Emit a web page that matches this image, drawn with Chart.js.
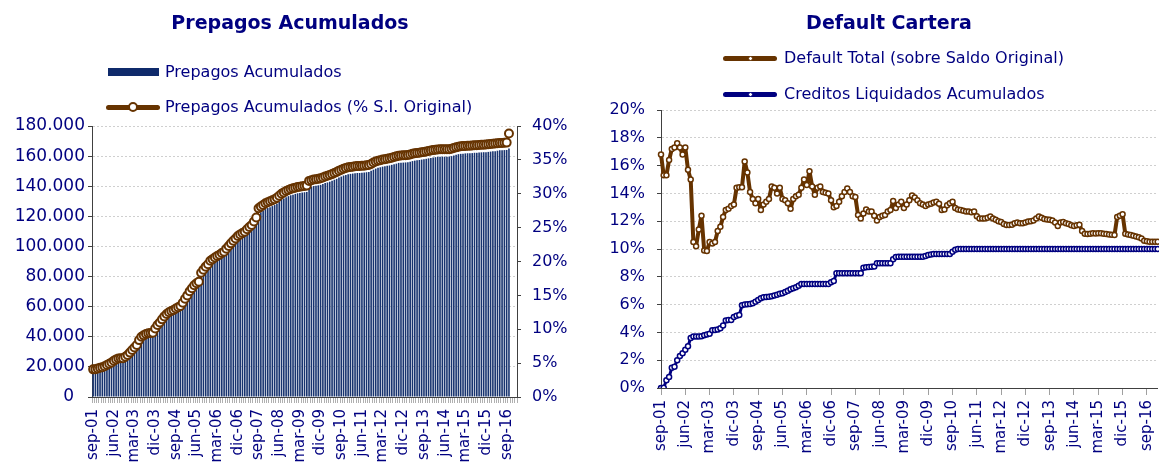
<!DOCTYPE html>
<html>
<head>
<meta charset="utf-8">
<script src="https://cdn.jsdelivr.net/npm/chart.js@4.4.1/dist/chart.umd.min.js"></script>
<style>
  body { margin: 0; background: #fff; font-family: "DejaVu Sans", sans-serif; }
  #wrap { position: relative; width: 1159px; height: 464px; overflow: hidden; }
  canvas { position: absolute; top: 0; }
  .titulo { position: absolute; top: 11px; font-weight: bold; font-size: 19px; color: #000080; white-space: nowrap; transform: translateX(-50%); }
  .leg { position: absolute; font-size: 16px; color: #000080; white-space: nowrap; height: 20px; line-height: 20px; }
  .sym { position: absolute; top: 50%; }
  .barra { height: 8px; margin-top: -4px; background: #0f2a6b; }
  .linea { height: 5px; margin-top: -2.5px; border-radius: 3px; }
  .punto { position: absolute; left: 50%; top: 50%; border-radius: 50%; background: #fff; }
</style>
</head>
<body>
<div id="wrap">
  <canvas id="grafPrepagos" width="580" height="464" style="left:0"></canvas>
  <canvas id="grafDefault" width="590" height="464" style="left:580px"></canvas>

  <div class="titulo" style="left:290px">Prepagos Acumulados</div>
  <div class="titulo" style="left:889px">Default Cartera</div>

  <!-- leyendas -->
  <div class="leg" style="left:165px;top:62px">
    <span class="sym barra" style="left:-57px;width:51px"></span>Prepagos Acumulados</div>
  <div class="leg" style="left:165px;top:97px">
    <span class="sym linea" style="left:-59px;width:54px;background:#663300">
      <span class="punto" style="width:6px;height:6px;margin:-5px 0 0 -5px;border:2px solid #663300"></span></span>Prepagos Acumulados (% S.I. Original)</div>
  <div class="leg" style="left:784px;top:48px">
    <span class="sym linea" style="left:-61px;width:54px;background:#663300">
      <span class="punto" style="width:3px;height:3px;margin:-2.5px 0 0 -2.5px;border:1px solid #663300"></span></span>Default Total (sobre Saldo Original)</div>
  <div class="leg" style="left:784px;top:84px">
    <span class="sym linea" style="left:-61px;width:54px;background:#000080">
      <span class="punto" style="width:3px;height:3px;margin:-2.5px 0 0 -2.5px;border:1px solid #000080"></span></span>Creditos Liquidados Acumulados</div>
</div>

<script>
// Meses (sep-01 .. ene-17)
const meses = ["ene", "feb", "mar", "abr", "may", "jun", "jul", "ago", "sep", "oct", "nov", "dic"];
const etiquetas = [];
for (let i = 0; i < 185; i++) {
  const m = (8 + i) % 12;
  const anio = 1 + Math.floor((8 + i) / 12);
  etiquetas.push(meses[m] + "-" + String(anio).padStart(2, "0"));
}

// Prepagos acumulados (numero)
const prepagos = [
  17800, 17900, 18300, 18900, 19200, 19900, 20600, 21400, 22300, 23400,
  24200, 24900, 25000, 25000, 26000, 27100, 28600, 30300, 31900, 33500,
  36700, 38800, 39700, 40600, 41000, 41200, 41500, 44100, 46400, 48000,
  50000, 51900, 53500, 54600, 55400, 56000, 57000, 57800, 58600, 60700,
  63300, 65500, 68100, 70000, 72000, 73300, 74200, 80100, 82100, 84000,
  85600, 87800, 88800, 89900, 90800, 91700, 92800, 93600, 95600, 97300,
  99000, 100600, 102100, 103700, 104800, 105600, 106500, 108000, 109600, 110800,
  113100, 115700, 121600, 122700, 123700, 124800, 125500, 126100, 126800, 127500,
  128300, 129600, 131000, 131800, 132700, 133400, 134000, 134400, 134900, 135300,
  135500, 135800, 136000, 136200, 139200, 139700, 140100, 140300, 140600, 140900,
  141400, 142100, 142500, 143000, 143600, 144300, 144900, 145800, 146400, 147100,
  147500, 148000, 148200, 148400, 148600, 148800, 148800, 148900, 149100, 149300,
  149500, 150200, 151000, 151700, 152300, 152600, 153000, 153200, 153600, 153800,
  154200, 154600, 155000, 155500, 155600, 155700, 155800, 155900, 156300, 156700,
  157000, 157300, 157400, 157700, 157900, 158200, 158500, 158800, 159100, 159300,
  159500, 159600, 159600, 159600, 159600, 159700, 160000, 160400, 160900, 161300,
  161500, 161600, 161800, 161900, 161900, 162000, 162200, 162200, 162400, 162500,
  162600, 162600, 162800, 163000, 163200, 163300, 163600, 163900, 163900, 164000,
  164100, 165000
];

// Prepagos acumulados (% saldo inicial original)
const prepagosPct = [
  4.08, 4.10, 4.20, 4.33, 4.40, 4.55, 4.72, 4.90, 5.10, 5.36,
  5.55, 5.70, 5.71, 5.72, 5.95, 6.20, 6.55, 6.94, 7.30, 7.68,
  8.40, 8.90, 9.10, 9.30, 9.40, 9.45, 9.50, 10.10, 10.63, 11.00,
  11.46, 11.90, 12.25, 12.50, 12.70, 12.84, 13.05, 13.25, 13.43, 13.90,
  14.50, 15.00, 15.60, 16.04, 16.50, 16.80, 17.00, 18.35, 18.80, 19.24,
  19.60, 20.12, 20.35, 20.60, 20.81, 21.00, 21.25, 21.45, 21.90, 22.30,
  22.68, 23.05, 23.40, 23.76, 24.00, 24.20, 24.40, 24.75, 25.10, 25.39,
  25.90, 26.50, 27.85, 28.10, 28.35, 28.60, 28.75, 28.90, 29.05, 29.20,
  29.40, 29.70, 30.00, 30.20, 30.40, 30.55, 30.70, 30.80, 30.90, 31.00,
  31.05, 31.10, 31.15, 31.20, 31.90, 32.00, 32.10, 32.15, 32.20, 32.28,
  32.40, 32.55, 32.65, 32.77, 32.90, 33.05, 33.20, 33.41, 33.55, 33.70,
  33.80, 33.90, 33.95, 34.00, 34.05, 34.08, 34.10, 34.12, 34.15, 34.20,
  34.24, 34.40, 34.60, 34.75, 34.88, 34.95, 35.05, 35.10, 35.18, 35.23,
  35.32, 35.42, 35.52, 35.62, 35.65, 35.68, 35.70, 35.72, 35.80, 35.90,
  35.97, 36.03, 36.06, 36.12, 36.18, 36.24, 36.31, 36.38, 36.44, 36.50,
  36.54, 36.56, 36.56, 36.57, 36.57, 36.58, 36.65, 36.75, 36.85, 36.95,
  37.00, 37.03, 37.06, 37.08, 37.10, 37.12, 37.15, 37.17, 37.20, 37.22,
  37.24, 37.26, 37.30, 37.34, 37.38, 37.42, 37.45, 37.48, 37.50, 37.52,
  37.55, 38.90
];

// Default total (% sobre saldo original)
const defaultTotal = [
  16.8, 15.3, 15.3, 16.4, 17.2, 17.3, 17.6, 17.3, 16.8, 17.3,
  15.7, 15.0, 10.5, 10.2, 11.4, 12.4, 9.9, 9.85, 10.5, 10.4,
  10.5, 11.3, 11.6, 12.3, 12.8, 12.9, 13.1, 13.2, 14.4, 14.45,
  14.45, 16.3, 15.5, 14.1, 13.6, 13.3, 13.6, 12.8, 13.2, 13.4,
  13.6, 14.5, 14.4, 14.0, 14.4, 13.6, 13.5, 13.3, 12.9, 13.6,
  13.8, 13.9, 14.4, 15.0, 14.6, 15.6, 14.5, 13.9, 14.4, 14.5,
  14.1, 14.05, 14.0, 13.5, 13.0, 13.1, 13.4, 13.8, 14.1, 14.35,
  14.1, 13.8, 13.75, 12.45, 12.2, 12.55, 12.85, 12.7, 12.7, 12.4,
  12.05, 12.3, 12.4, 12.45, 12.7, 12.8, 13.45, 12.95, 13.2, 13.4,
  12.95, 13.2, 13.5, 13.85, 13.7, 13.5, 13.3, 13.2, 13.1, 13.2,
  13.25, 13.35, 13.4, 13.25, 12.8, 12.85, 13.15, 13.3, 13.4, 12.95,
  12.85, 12.8, 12.75, 12.7, 12.7, 12.65, 12.7, 12.35, 12.2, 12.2,
  12.2, 12.25, 12.33, 12.2, 12.1, 12.0, 11.95, 11.8, 11.73, 11.73,
  11.75, 11.85, 11.9, 11.85, 11.85, 11.9, 11.97, 12.0, 12.05, 12.2,
  12.33, 12.25, 12.15, 12.13, 12.1, 12.05, 11.9, 11.65, 11.9, 11.95,
  11.85, 11.8, 11.7, 11.65, 11.7, 11.75, 11.3, 11.1, 11.08, 11.1,
  11.13, 11.12, 11.13, 11.13, 11.1, 11.08, 11.05, 11.02, 11.0, 12.3,
  12.4, 12.5, 11.1, 11.05, 11.0, 10.95, 10.9, 10.85, 10.75, 10.6,
  10.55, 10.53, 10.52, 10.52, 10.52
];

// Creditos liquidados acumulados (%)
const creditosLiq = [
  0.0, 0.02, 0.55, 0.8, 1.45, 1.53, 2.0, 2.3, 2.5, 2.75,
  3.0, 3.6, 3.7, 3.7, 3.7, 3.72, 3.8, 3.85, 3.9, 4.15,
  4.17, 4.2, 4.3, 4.5, 4.85, 4.9, 4.9, 5.1, 5.2, 5.25,
  5.95, 6.0, 6.03, 6.05, 6.1, 6.2, 6.33, 6.45, 6.52, 6.55,
  6.57, 6.6, 6.65, 6.7, 6.78, 6.82, 6.9, 7.0, 7.1, 7.17,
  7.24, 7.35, 7.48, 7.48, 7.48, 7.48, 7.48, 7.48, 7.48, 7.48,
  7.48, 7.48, 7.48, 7.6, 7.7, 8.25, 8.25, 8.25, 8.25, 8.25,
  8.25, 8.25, 8.25, 8.25, 8.25, 8.65, 8.68, 8.7, 8.72, 8.75,
  8.97, 8.97, 8.97, 8.97, 8.97, 8.97, 9.26, 9.42, 9.45, 9.45,
  9.45, 9.45, 9.45, 9.45, 9.45, 9.45, 9.45, 9.45, 9.5, 9.57,
  9.6, 9.64, 9.64, 9.64, 9.64, 9.64, 9.64, 9.64, 9.8, 9.95,
  10.0, 10.0, 10.0, 10.0, 10.0, 10.0, 10.0, 10.0, 10.0, 10.0,
  10.0, 10.0, 10.0, 10.0, 10.0, 10.0, 10.0, 10.0, 10.0, 10.0,
  10.0, 10.0, 10.0, 10.0, 10.0, 10.0, 10.0, 10.0, 10.0, 10.0,
  10.0, 10.0, 10.0, 10.0, 10.0, 10.0, 10.0, 10.0, 10.0, 10.0,
  10.0, 10.0, 10.0, 10.0, 10.0, 10.0, 10.0, 10.0, 10.0, 10.0,
  10.0, 10.0, 10.0, 10.0, 10.0, 10.0, 10.0, 10.0, 10.0, 10.0,
  10.0, 10.0, 10.0, 10.0, 10.0, 10.0, 10.0, 10.0, 10.0, 10.0,
  10.0, 10.0, 10.0, 10.0, 10.0
];

const azulTexto = "#000080";
const cafe = "#663300";
const ejeGris = "#404040";
const grillaGris = "#cfcfcf";

Chart.defaults.font.family = "'DejaVu Sans', sans-serif";
Chart.defaults.color = azulTexto;
Chart.defaults.animation = false;

// 180000 -> "180.000" (el cero va corrido como en el original)
function miles(v) {
  if (v === 0) return "0\u2007";
  return String(v).replace(/\B(?=(\d{3})+(?!\d))/g, ".");
}

// Prepagos
new Chart(document.getElementById("grafPrepagos"), {
  type: "bar",
  data: {
    labels: etiquetas,
    datasets: [
      {
        type: "line",
        label: "Prepagos Acumulados (% S.I. Original)",
        data: prepagosPct,
        yAxisID: "y1",
        borderColor: cafe,
        borderWidth: 3,
        borderJoinStyle: "round",
        pointRadius: 4,
        pointBorderWidth: 2,
        pointBackgroundColor: "#fff",
        pointBorderColor: cafe,
        order: 0
      },
      {
        label: "Prepagos Acumulados",
        data: prepagos,
        yAxisID: "y",
        backgroundColor: "#17336f",
        barPercentage: 0.7,
        categoryPercentage: 1,
        order: 1
      }
    ]
  },
  options: {
    responsive: false,
    layout: { padding: { top: 126, left: 0, right: 0, bottom: 0 } },
    plugins: { legend: { display: false }, tooltip: { enabled: false } },
    scales: {
      x: {
        offset: true,
        grid: { offset: true, drawOnChartArea: false, tickLength: 6, tickColor: "#b0b0b0" },
        border: { color: ejeGris },
        ticks: {
          autoSkip: false,
          minRotation: 90,
          maxRotation: 90,
          padding: 6,
          font: { size: 15 },
          callback: (v, i) => (i % 9 === 0 ? etiquetas[i] : "")
        },
        afterFit: (s) => { s.height = 67; }
      },
      y: {
        min: 0,
        max: 180000,
        ticks: { stepSize: 20000, padding: 3, font: { size: 17 }, callback: (v) => miles(v) },
        grid: { color: grillaGris, tickColor: ejeGris, tickLength: 4 },
        border: { color: ejeGris, dash: [2, 2] },
        afterFit: (s) => { s.width = 92; }
      },
      y1: {
        position: "right",
        min: 0,
        max: 40,
        ticks: { stepSize: 5, padding: 11, font: { size: 16 }, callback: (v) => v + "%" },
        grid: { drawOnChartArea: false, tickColor: ejeGris, tickLength: 4 },
        border: { color: ejeGris },
        afterFit: (s) => { s.width = 63; }
      }
    }
  }
});

// Default cartera
new Chart(document.getElementById("grafDefault"), {
  type: "line",
  data: {
    labels: etiquetas,
    datasets: [
      {
        label: "Default Total (sobre Saldo Original)",
        data: defaultTotal,
        borderColor: cafe,
        borderWidth: 4,
        borderJoinStyle: "round",
        pointRadius: 2.5,
        pointBorderWidth: 1.5,
        pointBackgroundColor: "#fff",
        pointBorderColor: cafe
      },
      {
        label: "Creditos Liquidados Acumulados",
        data: creditosLiq,
        borderColor: azulTexto,
        borderWidth: 3,
        borderJoinStyle: "round",
        pointRadius: 2.5,
        pointBorderWidth: 1.5,
        pointBackgroundColor: "#fff",
        pointBorderColor: azulTexto
      }
    ]
  },
  options: {
    responsive: false,
    layout: { padding: { top: 110, left: 0, right: 0, bottom: 0 } },
    plugins: { legend: { display: false }, tooltip: { enabled: false } },
    scales: {
      x: {
        offset: false,
        grid: { drawOnChartArea: false, tickLength: 7, tickColor: "#a0a0a0" },
        border: { color: ejeGris },
        ticks: {
          autoSkip: false,
          minRotation: 90,
          maxRotation: 90,
          padding: 5,
          font: { size: 15 },
          callback: (v, i) => (i % 9 === 0 ? etiquetas[i] : null)
        },
        afterFit: (s) => { s.height = 76; }
      },
      y: {
        min: 0,
        max: 20,
        ticks: { stepSize: 2, padding: 12, font: { size: 16 }, callback: (v) => v + "%" },
        grid: { color: grillaGris, tickColor: ejeGris, tickLength: 4 },
        border: { color: ejeGris, dash: [2, 2] },
        afterFit: (s) => { s.width = 81; }
      }
    }
  }
});
</script>
</body>
</html>
